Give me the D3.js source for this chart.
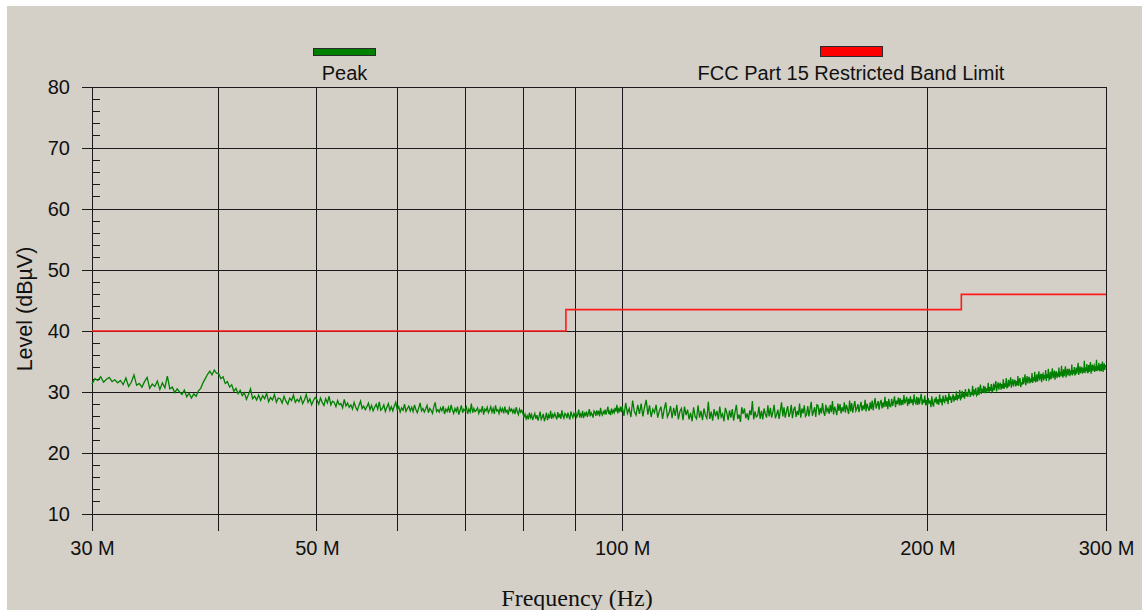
<!DOCTYPE html>
<html>
<head>
<meta charset="utf-8">
<script src="https://cdn.jsdelivr.net/npm/d3@7"></script>
<style>
  html, body { margin: 0; padding: 0; background: #ffffff; }
  svg { display: block; }
</style>
</head>
<body>
<svg id="chart" width="1142" height="610"></svg>
<script>
// ---------------- data ----------------
const xTickMHz = [30, 40, 50, 60, 70, 80, 90, 100, 200, 300];
const xLabelMHz = [30, 50, 100, 200, 300];
const yTicks = [10, 20, 30, 40, 50, 60, 70, 80];
const yMinorTicks = [12, 14, 16, 18, 22, 24, 26, 28, 32, 34, 36, 38, 42, 44, 46, 48, 52, 54, 56, 58, 62, 64, 66, 68, 72, 74, 76, 78];

const seriesNames = ["Peak", "FCC Part 15 Restricted Band Limit"];

// FCC limit (step after each break frequency)
const limitFreqMHz = [30, 88, 216, 300];
const limitLevels  = [40, 43.5, 46, 46];

// Peak sweep, low band: 30.0 .. 99.8 MHz, step 0.2 MHz (dBµV)
const peakLowStartMHz = 30;
const peakLowStepMHz = 0.2;
const peakLowLevels = [
  31.3, 32.2, 31.9, 32.5, 31.6, 32.1, 32.4, 31.7, 32.0, 31.5,
  31.9, 31.2, 32.3, 30.9, 31.6, 32.8, 31.1, 31.4, 30.8, 31.7,
  32.4, 30.6, 31.3, 30.9, 31.8, 30.4, 31.5, 30.7, 32.6, 30.5,
  30.8, 29.9, 30.5, 30.0, 29.6, 30.3, 29.2, 29.8, 29.0, 29.7,
  29.3, 30.2, 30.6, 31.5, 32.2, 32.9, 33.4, 32.8, 33.6, 33.1,
  33.0, 32.2, 32.5, 31.4, 31.7, 30.8, 31.2, 30.1, 30.6, 29.7,
  30.3, 29.4, 29.9, 28.8, 29.6, 30.5, 28.9, 29.3, 28.7, 29.5,
  28.6, 29.4, 28.9, 29.8, 28.4, 29.1, 28.7, 29.6, 28.3, 29.0,
  28.9, 28.2, 29.3, 28.5, 28.0, 29.0, 28.6, 29.5, 28.3, 28.8,
  28.4, 29.2, 28.1, 28.7, 29.6, 28.3, 28.9, 27.9, 28.6, 29.1,
  28.7, 28.0, 29.0, 28.3, 27.8, 28.9, 28.2, 29.3, 27.9, 28.5,
  28.3, 27.6, 28.6, 27.9, 28.1, 27.4, 28.8, 27.7, 28.2, 27.5,
  27.9, 27.2, 28.3, 27.5, 27.0, 27.8, 28.5, 27.3, 27.7, 27.1,
  27.6, 28.2, 27.1, 27.8, 26.9, 27.5, 28.0, 27.2, 28.4, 27.0,
  27.3, 27.9, 26.8, 27.5, 28.1, 27.0, 27.6, 26.9, 27.7, 28.3,
  27.1, 27.6, 26.7, 27.4, 27.0, 28.0, 26.8, 27.3, 27.7, 26.9,
  27.5, 26.8, 27.9, 27.1, 26.6, 27.4, 28.2, 26.9, 27.3, 26.7,
  27.2, 27.8, 26.6, 27.3, 27.0, 26.5, 27.6, 28.3, 26.8, 27.1,
  26.7, 27.4, 26.9, 27.7, 26.4, 27.2, 26.8, 27.5, 26.6, 27.9,
  27.1, 26.5, 27.3, 26.8, 27.6, 26.3, 27.0, 27.8, 26.6, 27.2,
  26.9, 27.5, 26.4, 27.2, 26.7, 28.1, 26.6, 27.3, 26.8, 27.0,
  27.4, 26.5, 27.1, 26.8, 27.7, 26.3, 27.2, 26.9, 27.5, 26.6,
  27.0, 27.6, 26.7, 27.3, 26.4, 27.8, 26.9, 27.1, 26.5, 27.4,
  26.8, 27.3, 26.5, 27.6, 26.7, 27.0, 26.3, 27.4, 26.9, 27.2,
  26.6, 27.1, 26.4, 27.5, 26.8, 26.3, 27.2, 26.7, 27.0, 26.5,
  25.9, 26.4, 25.6, 26.1, 25.5, 26.6, 25.8, 26.3, 25.4, 26.0,
  26.5, 25.6, 26.2, 25.3, 26.0, 26.8, 25.5, 25.9, 26.4, 25.2,
  25.8, 26.6, 25.4, 26.2, 25.7, 26.9, 25.6, 26.3, 25.9, 26.5,
  26.0, 25.5, 26.7, 25.8, 26.4, 25.6, 27.0, 26.1, 25.7, 26.5,
  26.3, 25.7, 26.6, 26.0, 25.5, 26.8, 26.2, 25.8, 26.5, 26.1,
  26.6, 25.9, 26.3, 27.1, 25.8, 26.4, 26.0, 26.9, 25.7, 26.5,
  26.2, 26.8, 25.9, 26.5, 27.2, 26.0, 26.6, 26.3, 25.8, 26.9,
  26.7, 26.1, 27.0, 26.4, 26.9, 26.0, 27.4, 26.5, 26.2, 26.8,
  26.5, 27.1, 26.3, 26.9, 27.6, 26.4, 26.8, 26.2, 27.3, 26.6,
  27.0, 26.6, 27.4, 26.8, 27.9, 26.5, 27.2, 26.9, 27.6, 26.7
];

// Peak sweep, high band: 100 .. 300 MHz, step 0.4 MHz (dBµV)
const peakHighStartMHz = 100;
const peakHighStepMHz = 0.4;
const peakHighLevels = [
  27.6, 26.1, 28.2, 26.5, 27.3, 25.9, 28.6, 26.8, 26.2, 27.9,
  26.4, 28.1, 26.0, 27.5, 28.7, 26.3, 27.8, 25.9, 27.2, 26.6,
  27.9, 25.8, 26.9, 27.6, 25.6, 27.2, 28.3, 25.9, 26.5, 27.7,
  25.7, 27.4, 26.1, 27.9, 25.5, 26.8, 27.3, 25.4, 27.6, 26.2,
  27.1, 25.5, 26.6, 25.2, 27.5, 26.0, 25.6, 27.8, 25.8, 26.9,
  25.4, 27.3, 26.2, 25.7, 28.4, 25.6, 26.8, 25.3, 27.2, 26.0,
  26.9, 25.5, 27.6, 25.9, 26.4, 25.2, 27.4, 26.6, 25.4, 27.0,
  25.8, 27.2, 25.3, 26.7, 27.9, 25.6, 26.3, 25.1, 27.5, 26.4,
  27.3, 25.7, 26.5, 25.4, 27.0, 26.2, 28.5, 25.5, 26.8, 25.9,
  26.1, 27.6, 25.6, 26.9, 25.5, 27.3, 26.4, 25.8, 27.8, 26.0,
  27.4, 25.8, 26.7, 27.9, 25.7, 26.3, 27.1, 25.6, 26.9, 28.3,
  26.0, 27.5, 25.8, 26.8, 27.7, 25.9, 26.5, 27.9, 25.7, 27.1,
  27.6, 25.9, 26.9, 26.2, 28.1, 25.8, 27.3, 26.5, 27.8, 26.0,
  26.3, 27.7, 26.0, 27.2, 28.4, 26.1, 26.8, 27.5, 25.9, 27.9,
  27.8, 26.2, 27.4, 26.5, 28.2, 26.7, 26.1, 27.9, 26.8, 27.3,
  26.4, 27.9, 26.7, 28.5, 26.3, 27.6, 27.0, 26.2, 28.1, 26.9,
  28.0, 26.5, 27.5, 26.8, 28.3, 26.6, 27.9, 27.2, 26.4, 28.6,
  26.8, 28.2, 26.6, 27.7, 28.5, 26.9, 27.3, 28.0, 26.7, 27.6,
  28.4, 26.9, 27.8, 27.1, 28.7, 26.8, 28.1, 27.4, 26.9, 28.3,
  27.2, 28.6, 27.0, 28.1, 29.0, 27.3, 27.9, 28.5, 27.1, 28.2,
  28.7, 27.3, 28.3, 27.5, 29.2, 27.6, 28.5, 27.2, 28.9, 27.7,
  27.6, 28.9, 27.7, 28.4, 29.3, 27.5, 28.6, 28.0, 29.1, 27.8,
  29.0, 27.8, 28.7, 27.9, 29.5, 28.1, 28.6, 29.2, 27.7, 28.9,
  28.0, 29.3, 28.2, 28.8, 27.8, 29.6, 28.4, 28.1, 29.2, 27.9,
  29.1, 28.0, 28.9, 29.7, 27.9, 28.6, 28.2, 29.4, 27.8, 28.7,
  27.7, 29.0, 28.1, 28.6, 27.5, 29.3, 28.0, 27.6, 28.9, 28.3,
  29.2, 28.0, 28.8, 27.9, 29.6, 28.3, 28.9, 27.8, 29.4, 28.5,
  28.3, 29.5, 28.5, 29.1, 28.0, 29.8, 28.7, 29.3, 28.2, 29.0,
  29.6, 28.4, 29.3, 28.7, 30.1, 28.6, 29.5, 28.9, 30.3, 28.8,
  29.0, 30.2, 29.1, 29.8, 28.9, 30.5, 29.3, 30.0, 29.2, 30.4,
  30.3, 29.2, 30.0, 29.5, 31.0, 29.3, 30.4, 29.6, 30.7, 29.4,
  29.6, 30.8, 29.5, 30.5, 31.2, 29.7, 30.3, 29.9, 31.0, 29.8,
  30.9, 29.8, 30.6, 30.1, 31.5, 29.9, 30.8, 30.2, 31.3, 30.0,
  30.2, 31.4, 30.3, 31.0, 31.8, 30.1, 30.9, 31.6, 30.4, 31.2,
  31.5, 30.4, 31.3, 30.6, 32.1, 30.5, 31.4, 30.8, 32.3, 30.7,
  30.8, 32.0, 30.9, 31.6, 32.4, 30.7, 31.5, 32.1, 30.9, 31.7,
  32.0, 30.9, 31.8, 31.1, 32.6, 31.0, 31.9, 32.3, 30.8, 31.6,
  31.2, 32.4, 31.3, 32.0, 32.9, 31.1, 31.8, 32.6, 31.4, 32.2,
  32.5, 31.4, 32.2, 31.6, 33.1, 31.5, 32.4, 31.8, 33.3, 31.7,
  31.8, 32.9, 31.7, 32.6, 33.4, 31.9, 32.5, 33.0, 31.6, 32.8,
  33.0, 31.9, 32.8, 32.2, 33.6, 31.8, 32.9, 32.3, 33.8, 32.0,
  32.2, 33.3, 32.1, 33.0, 33.9, 32.3, 32.7, 33.5, 32.0, 33.1,
  33.4, 32.3, 33.2, 32.5, 34.0, 32.4, 33.3, 32.7, 34.3, 32.6,
  32.5, 33.7, 32.6, 33.4, 34.2, 32.4, 33.1, 33.8, 32.7, 33.5,
  33.8, 32.6, 33.5, 32.9, 34.5, 32.7, 33.6, 33.0, 34.1, 32.8,
  32.9, 34.0, 33.0, 33.8, 34.8, 32.8, 33.5, 34.2, 33.1, 33.7,
  34.1, 33.0, 33.9, 33.2, 35.1, 33.1, 34.0, 33.4, 34.6, 33.2,
  33.2, 34.4, 33.3, 34.1, 34.9, 33.0, 33.8, 34.5, 33.4, 34.2,
  34.4, 33.3, 34.2, 33.5, 35.3, 33.4, 34.3, 33.6, 34.8, 33.5,
  33.5, 34.6, 33.4, 34.3, 35.0, 33.3, 34.0, 34.7, 33.6, 34.4,
  34.1
];

// ---------------- chart ----------------
const svg = d3.select("#chart");
const W = 1142, H = 610;

svg.append("rect").attr("x", 7).attr("y", 6).attr("width", W - 7).attr("height", H - 6)
  .attr("fill", "#d4d0c8");

const x = d3.scaleLog().domain([30, 300]).range([92, 1106]);
const y = d3.scaleLinear().domain([10, 80]).range([514, 87]);

const gridColor = "#1a1a1a";

// horizontal grid + major ticks (extend left of axis)
svg.append("g").selectAll("line").data(yTicks).join("line")
  .attr("x1", x(30) - 10).attr("x2", x(300))
  .attr("y1", d => y(d)).attr("y2", d => y(d))
  .attr("stroke", gridColor).attr("stroke-width", 1).attr("shape-rendering", "crispEdges");

// vertical grid (extend below axis as ticks)
svg.append("g").selectAll("line").data(xTickMHz).join("line")
  .attr("x1", d => x(d)).attr("x2", d => x(d))
  .attr("y1", y(80)).attr("y2", y(10) + 17)
  .attr("stroke", gridColor).attr("stroke-width", 1).attr("shape-rendering", "crispEdges");

// minor y ticks
svg.append("g").selectAll("line").data(yMinorTicks).join("line")
  .attr("x1", x(30)).attr("x2", x(30) + 8)
  .attr("y1", d => y(d)).attr("y2", d => y(d))
  .attr("stroke", gridColor).attr("stroke-width", 1).attr("shape-rendering", "crispEdges");

// tick labels via d3 axes
const font = "Liberation Sans, Arial, sans-serif";
const yAxis = svg.append("g").attr("transform", `translate(${x(30)},0)`)
  .call(d3.axisLeft(y).tickValues(yTicks).tickSize(0).tickPadding(22).tickFormat(d3.format("d")));
yAxis.select(".domain").remove();
yAxis.selectAll("text").attr("font-family", font).attr("font-size", 20).attr("fill", "#111");

const xAxis = svg.append("g").attr("transform", `translate(0,${y(10)})`)
  .call(d3.axisBottom(x).tickValues(xLabelMHz).tickSize(0).tickPadding(27).tickFormat(d => d + " M"));
xAxis.select(".domain").remove();
xAxis.selectAll("text").attr("font-family", font).attr("font-size", 20).attr("fill", "#111");

// axis titles
svg.append("text").attr("x", 577).attr("y", 606).attr("text-anchor", "middle")
  .attr("font-family", "Liberation Serif, Times New Roman, serif").attr("font-size", 24)
  .attr("fill", "#111").text("Frequency (Hz)");

svg.append("text").attr("transform", "translate(32,309) rotate(-90)").attr("text-anchor", "middle")
  .attr("font-family", font).attr("font-size", 21.5).attr("fill", "#111").text("Level (dBµV)");

// limit line
const limitData = limitFreqMHz.map((f, i) => ({ f, v: limitLevels[i] }));
svg.append("path").datum(limitData)
  .attr("d", d3.line().x(d => x(d.f)).y(d => y(d.v)).curve(d3.curveStepAfter))
  .attr("fill", "none").attr("stroke", "#ff1a1a").attr("stroke-width", 1.6);

// peak trace
const peakData = peakLowLevels.map((v, i) => ({ f: peakLowStartMHz + i * peakLowStepMHz, v }))
  .concat(peakHighLevels.map((v, i) => ({ f: Math.min(300, peakHighStartMHz + i * peakHighStepMHz), v })));
svg.append("path").datum(peakData)
  .attr("d", d3.line().x(d => x(d.f)).y(d => y(d.v)))
  .attr("fill", "none").attr("stroke", "#008000").attr("stroke-width", 1.3)
  .attr("stroke-linejoin", "miter");

// legend
const legend = [
  { name: seriesNames[0], color: "#008000", rx: 313, ry: 48, rw: 62, rh: 7, cx: 344.5 },
  { name: seriesNames[1], color: "#ff0000", rx: 820, ry: 46, rw: 62, rh: 10, cx: 851 }
];
const lg = svg.append("g");
lg.selectAll("rect").data(legend).join("rect")
  .attr("x", d => d.rx + 0.5).attr("y", d => d.ry + 0.5).attr("width", d => d.rw).attr("height", d => d.rh)
  .attr("fill", d => d.color).attr("stroke", "#2a2a2a").attr("stroke-width", 1);
lg.selectAll("text").data(legend).join("text")
  .attr("x", d => d.cx).attr("y", 80).attr("text-anchor", "middle")
  .attr("font-family", font).attr("font-size", 20).attr("fill", "#111")
  .text(d => d.name);
</script>
</body>
</html>
